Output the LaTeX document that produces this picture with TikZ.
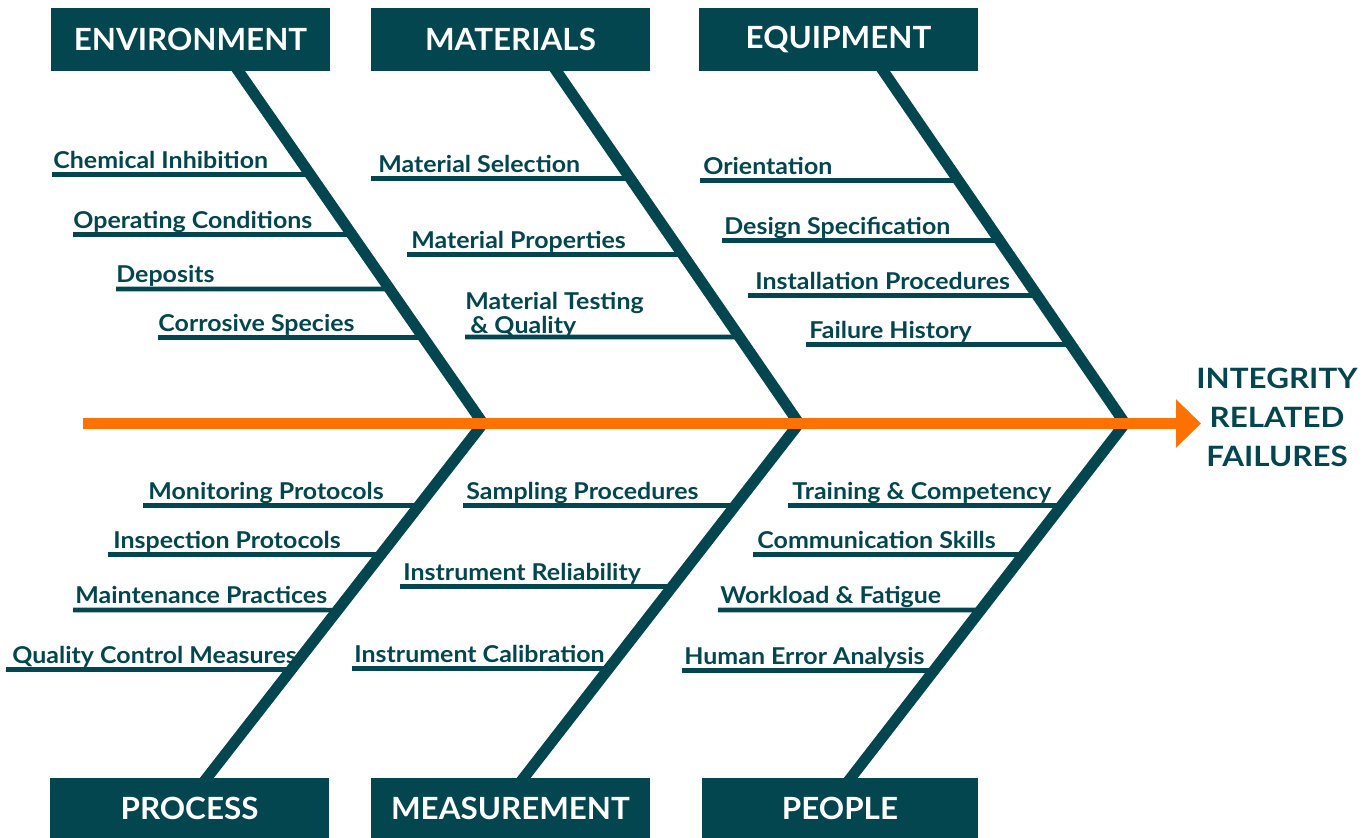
\documentclass[tikz,border=0pt]{standalone}
\usepackage{fontspec}
\setmainfont{Lato}
\newfontfamily\twigfont{Lato}[FakeStretch=1.075]
\newfontfamily\boxfont{Lato}[FakeStretch=1.025]
\newfontfamily\effectfont{Lato}[FakeStretch=1.12]
\usetikzlibrary{calc,arrows.meta}
\definecolor{fishteal}{HTML}{03464F}
\definecolor{fishorange}{HTML}{FF7100}
\pgfdeclarelayer{bg}
\pgfsetlayers{bg,main}

% one sub-cause: horizontal twig from a free start point to the bone, label above it
% #1 name, #2/#3 bone ends, #4 start x, #5 twig y, #6 label x, #7 label
\newcommand{\twig}[7]{%
  \coordinate (#1-s) at (#4,#5);
  \coordinate (#1-f) at (1400,#5);
  \coordinate (#1-e) at (intersection of #2--#3 and #1-s--#1-f);
  \draw[twigline] (#1-s) -- (#1-e);
  \node[twiglabel] (#1) at (#6,{#5-6}) {#7};
}

\begin{document}
\begin{tikzpicture}[x=0.5pt,y=-0.5pt,
  catbox/.style={fill=fishteal, text=white, inner sep=0pt,
    minimum width=139.5pt, font=\boxfont\fontsize{15.3pt}{18pt}\selectfont\bfseries},
  boneline/.style={draw=fishteal, line width=5.5pt, line join=miter, line cap=butt},
  twigline/.style={draw=fishteal, line width=2.3pt},
  twiglabel/.style={anchor=base west, inner sep=0pt, text=fishteal,
    font=\twigfont\fontsize{11.6pt}{14pt}\selectfont\bfseries},
  spine/.style={draw=fishorange, line width=5.5pt,
    -{Triangle[length=12.5pt,width=23.5pt]}}]
\useasboundingbox (0,0) rectangle (1371,838);

% category boxes
\node[catbox, minimum height=31.5pt] (env) at (190.5,39.5) {ENVIRONMENT};
\node[catbox, minimum height=31.5pt] (mat) at (510.5,39.5) {MATERIALS};
\node[catbox, minimum height=31.5pt] (equ) at (838.5,39.5) {EQUIPMENT};
\node[catbox, minimum height=30pt] (pro) at (189.5,808) {PROCESS};
\node[catbox, minimum height=30pt] (mea) at (510.5,808) {MEASUREMENT};
\node[catbox, minimum height=30pt, minimum width=138pt] (peo) at (840,808) {PEOPLE};

% where the bones leave the boxes and meet the spine
\coordinate (envb) at ($(env.south west)!0.672!(env.south east)$);
\coordinate (matb) at ($(mat.south west)!0.665!(mat.south east)$);
\coordinate (equb) at ($(equ.south west)!0.661!(equ.south east)$);
\coordinate (prob) at ($(pro.north west)!0.563!(pro.north east)$);
\coordinate (meab) at ($(mea.north west)!0.548!(mea.north east)$);
\coordinate (peob) at ($(peo.north west)!0.54!(peo.north east)$);
\coordinate (j1) at (483,423.5);
\coordinate (j2) at (799,423.5);
\coordinate (j3) at (1125,423.5);

\begin{pgfonlayer}{bg}
  \draw[boneline] ($(envb)!-0.03!(j1)$) -- (j1) -- ($(prob)!-0.03!(j1)$);
  \draw[boneline] ($(matb)!-0.03!(j2)$) -- (j2) -- ($(meab)!-0.03!(j2)$);
  \draw[boneline] ($(equb)!-0.03!(j3)$) -- (j3) -- ($(peob)!-0.03!(j3)$);
\end{pgfonlayer}

% environment
\twig{chem}{envb}{j1}{52}{174.5}{53}{Chemical Inhibition}
\twig{oper}{envb}{j1}{73}{234.5}{73}{Operating Conditions}
\twig{depo}{envb}{j1}{116}{289}{116}{Deposits}
\twig{corr}{envb}{j1}{158}{337.5}{158}{Corrosive Species}
% materials
\twig{msel}{matb}{j2}{371}{178.5}{378}{Material Selection}
\twig{mprop}{matb}{j2}{407}{254.5}{411}{Material Properties}
\coordinate (mtest-s) at (465,337);
\coordinate (mtest-f) at (1400,337);
\coordinate (mtest-e) at (intersection of matb--j2 and mtest-s--mtest-f);
\draw[twigline] (mtest-s) -- (mtest-e);
\node[twiglabel] (mtest) at (465,310)
  {\vtop{\baselineskip=10pt\hbox{Material Testing}\hbox{\hspace{2.5pt}\& Quality}}};
% equipment
\twig{orient}{equb}{j3}{700}{180.5}{703}{Orientation}
\twig{design}{equb}{j3}{722}{240.5}{724}{Design Specification}
\twig{install}{equb}{j3}{748}{295.5}{755}{Installation Procedures}
\twig{fail}{equb}{j3}{806}{344.5}{809}{Failure History}
% process
\twig{mon}{j1}{prob}{143}{505.5}{148}{Monitoring Protocols}
\twig{insp}{j1}{prob}{108}{554.5}{113}{Inspection Protocols}
\twig{maint}{j1}{prob}{73}{610}{75}{Maintenance Practices}
\twig{qual}{j1}{prob}{6}{669.5}{12}{Quality Control Measures}
% measurement
\twig{samp}{j2}{meab}{463}{505.5}{466}{Sampling Procedures}
\twig{irel}{j2}{meab}{400}{586.5}{403}{Instrument Reliability}
\twig{ical}{j2}{meab}{352}{668.5}{354}{Instrument Calibration}
% people
\twig{train}{j3}{peob}{788}{505.5}{792}{Training \& Competency}
\twig{comm}{j3}{peob}{753}{554.5}{757}{Communication Skills}
\twig{work}{j3}{peob}{718}{610}{720}{Workload \& Fatigue}
\twig{human}{j3}{peob}{682}{670.5}{684}{Human Error Analysis}

% spine and effect
\coordinate (tail) at (83,423.5);
\node[text=fishteal, align=center, inner sep=0pt,
  font=\effectfont\fontsize{14pt}{19.5pt}\selectfont\bfseries] (effect) at (1277,417)
  {INTEGRITY\\RELATED\\FAILURES};
\coordinate (head) at (1201,423.5);
\draw[spine] (tail) -- (head);
\end{tikzpicture}
\end{document}
